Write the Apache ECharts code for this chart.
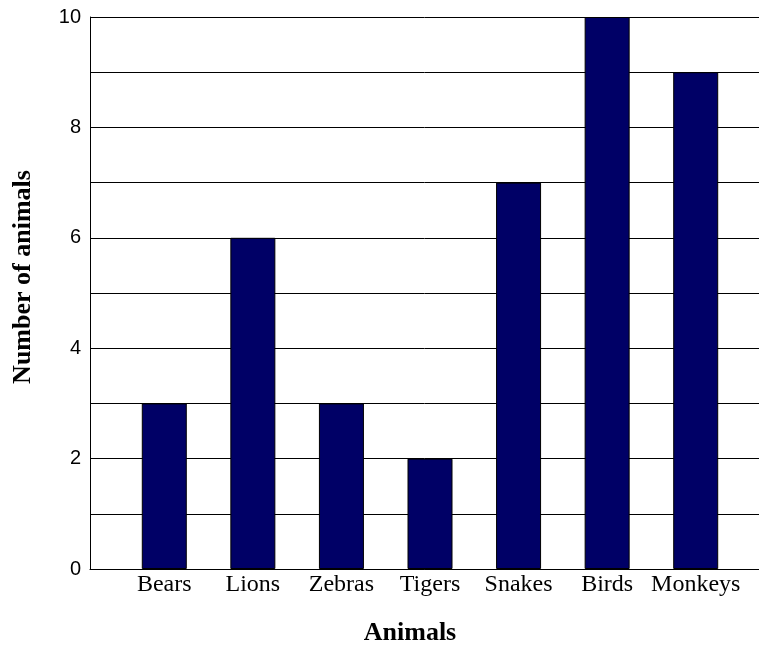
<!DOCTYPE html>
<html><head><meta charset="utf-8">
<script src="https://cdn.jsdelivr.net/npm/echarts@6/dist/echarts.min.js"></script>
<style>html,body{margin:0;padding:0;background:#fff}#c{width:759px;height:645px}</style>
</head><body><div id="c"></div>
<script>
var categories = ["Bears", "Lions", "Zebras", "Tigers", "Snakes", "Birds", "Monkeys"];
var counts = [3, 6, 3, 2, 7, 10, 9];
var yTicks = [0, 2, 4, 6, 8, 10];
var xTitle = "Animals";
var yTitle = "Number of animals";

var chart = echarts.init(document.getElementById('c'), null, {renderer: 'canvas'});
chart.setOption({
  animation: false,
  backgroundColor: '#fff',
  grid: [
    {left: 90, right: 0, top: 17, bottom: 76},
    {left: 120, right: 19, top: 17, bottom: 76}
  ],
  xAxis: [
    {gridIndex: 0, type: 'value', min: 0, max: 1, position: 'bottom',
     axisLine: {show: true, onZero: false, lineStyle: {color: '#000', width: 1}},
     axisTick: {show: false}, axisLabel: {show: false}, splitLine: {show: false}},
    {gridIndex: 1, type: 'category', data: categories,
     axisLine: {show: false}, axisTick: {show: false},
     axisLabel: {color: '#000', fontFamily: 'Liberation Serif', fontSize: 24, margin: 4, interval: 0}}
  ],
  yAxis: [
    {gridIndex: 0, type: 'value', min: 0, max: 10, interval: 1,
     axisLine: {show: true, lineStyle: {color: '#000', width: 1}},
     axisTick: {show: false},
     splitLine: {show: true, lineStyle: {color: '#000', width: 1}},
     axisLabel: {color: '#000', fontFamily: 'Liberation Sans', fontSize: 20, margin: 9,
       formatter: function (v) { return yTicks.indexOf(v) >= 0 ? String(v) : ''; }}},
    {gridIndex: 1, type: 'value', min: 0, max: 10, interval: 1, show: false}
  ],
  series: [{
    type: 'bar', xAxisIndex: 1, yAxisIndex: 1, data: counts, barWidth: 45,
    itemStyle: {color: '#000066', borderColor: '#000', borderWidth: 1}
  }],
  graphic: [
    {type: 'text', x: 410, y: 633, style: {text: xTitle, fill: '#000', font: 'bold 26px "Liberation Serif"', align: 'center', verticalAlign: 'middle'}},
    {type: 'text', x: 23, y: 277, rotation: Math.PI / 2, style: {text: yTitle, fill: '#000', font: 'bold 26px "Liberation Serif"', align: 'center', verticalAlign: 'middle'}}
  ]
});
</script></body></html>
